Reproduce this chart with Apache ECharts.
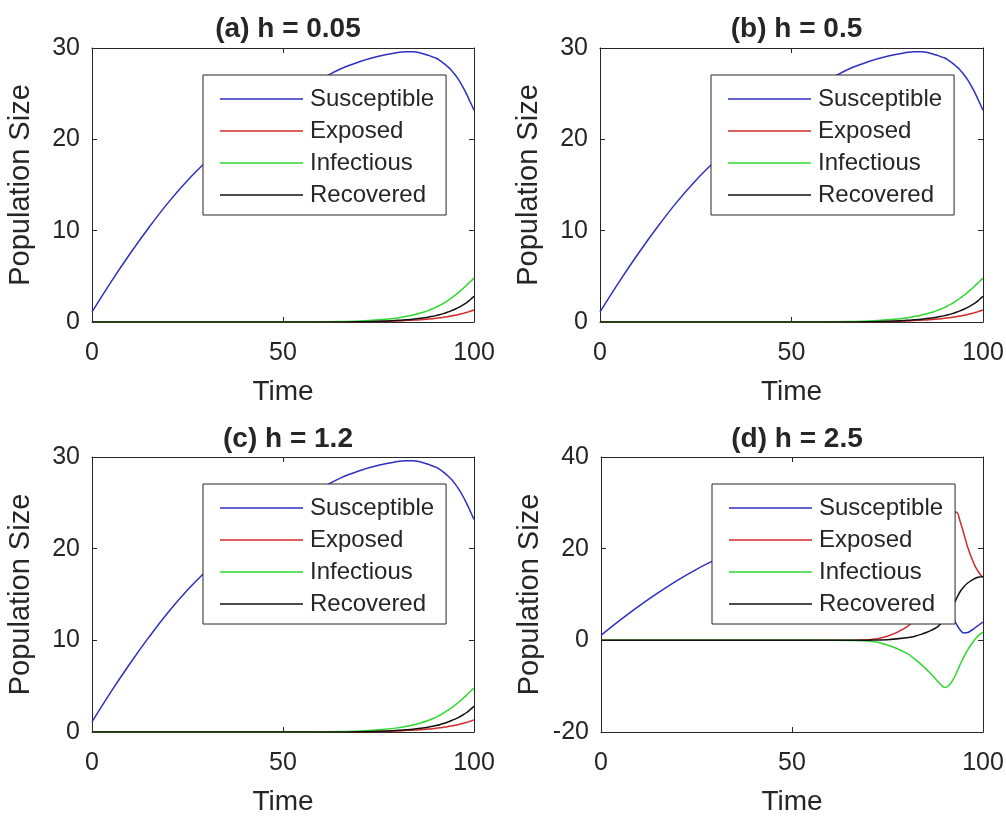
<!DOCTYPE html>
<html>
<head>
<meta charset="utf-8">
<title>SEIR population, four step sizes</title>
<script src="https://cdn.jsdelivr.net/npm/echarts@6/dist/echarts.min.js"></script>
<style>
  html, body { margin: 0; padding: 0; background: #fff; }
  #chart { width: 1006px; height: 818px; }
</style>
</head>
<body>
<div id="chart"></div>
<script>
// time points shared by every curve
const time = [0, 5, 10, 15, 20, 25, 30, 35, 40, 45, 50, 55, 60, 65, 70, 75, 80,
  82, 84, 86, 88, 89, 90, 91, 92, 93, 94, 95, 96, 97, 98, 99, 100];

// panels (a)-(c): h = 0.05, 0.5, 1.2 give the same picture
const susceptible = [1.1, 4.4, 7.5, 10.4, 13.1, 15.5, 17.6, 19.5, 21.2, 22.7, 24.1, 25.4, 26.6, 27.7, 28.5, 29.1, 29.5,
  29.6, 29.6, 29.45, 29.2, 29.05, 28.9, 28.65, 28.35, 28.0, 27.6, 27.1, 26.5, 25.8, 25.0, 24.1, 23.2];
const exposed = [0, 0, 0, 0, 0, 0, 0, 0, 0, 0, 0, 0, 0, 0.01, 0.03, 0.06, 0.12,
  0.16, 0.2, 0.25, 0.32, 0.36, 0.41, 0.46, 0.52, 0.58, 0.65, 0.73, 0.82, 0.92, 1.03, 1.17, 1.32];
const infectious = [0, 0, 0, 0, 0, 0, 0, 0, 0, 0, 0, 0, 0.02, 0.05, 0.12, 0.25, 0.45,
  0.6, 0.77, 0.98, 1.25, 1.42, 1.6, 1.82, 2.05, 2.32, 2.6, 2.92, 3.25, 3.62, 4.0, 4.4, 4.8];
const recovered = [0, 0, 0, 0, 0, 0, 0, 0, 0, 0, 0, 0, 0, 0, 0.03, 0.08, 0.18,
  0.24, 0.31, 0.41, 0.53, 0.61, 0.7, 0.8, 0.92, 1.06, 1.22, 1.4, 1.6, 1.84, 2.1, 2.44, 2.8];

// panel (d): h = 2.5, unstable
const susceptibleD = [1.1, 4.4, 7.5, 10.4, 13.1, 15.5, 17.6, 19.5, 21.2, 22.7, 24.1, 25.4, 26.6, 27.7, 28.5, 29.0, 28.6,
  27.5, 25.5, 22.0, 16.5, 13.0, 10.0, 7.3, 5.2, 3.6, 2.3, 1.6, 1.7, 2.2, 2.8, 3.4, 4.0];
const exposedD = [0, 0, 0, 0, 0, 0, 0, 0, 0, 0, 0, 0, 0, 0.03, 0.12, 0.9, 2.9,
  4.5, 6.8, 10.0, 14.5, 17.5, 21.0, 24.5, 27.3, 28.0, 26.0, 23.2, 20.3, 18.0, 16.1, 14.7, 13.7];
const infectiousD = [0, 0, 0, 0, 0, 0, 0, 0, 0, 0, 0, 0, 0, -0.03, -0.15, -1.0, -2.8,
  -4.0, -5.4, -7.0, -8.8, -9.7, -10.3, -9.9, -8.8, -7.2, -5.3, -3.6, -2.1, -0.8, 0.3, 1.2, 1.8];
const recoveredD = [0, 0, 0, 0, 0, 0, 0, 0, 0, 0, 0, 0, 0, 0, 0.03, 0.15, 0.55,
  0.85, 1.35, 2.0, 2.9, 3.7, 4.7, 5.9, 7.3, 9.0, 10.6, 11.7, 12.5, 13.1, 13.55, 13.8, 13.9];

const seriesNames = ['Susceptible', 'Exposed', 'Infectious', 'Recovered'];
const seriesColors = ['#2f2fc0', '#d42a2a', '#2ed82e', '#111111'];

const panels = [
  { title: '(a) h = 0.05', data: [susceptible, exposed, infectious, recovered], yMin: 0, yMax: 30, yStep: 10 },
  { title: '(b) h = 0.5', data: [susceptible, exposed, infectious, recovered], yMin: 0, yMax: 30, yStep: 10 },
  { title: '(c) h = 1.2', data: [susceptible, exposed, infectious, recovered], yMin: 0, yMax: 30, yStep: 10 },
  { title: '(d) h = 2.5', data: [susceptibleD, exposedD, infectiousD, recoveredD], yMin: -20, yMax: 40, yStep: 20 },
];

// plot boxes, pixels
const boxes = [
  { left: 92, top: 48, width: 382, height: 274 },
  { left: 600, top: 48, width: 383, height: 274 },
  { left: 92, top: 457, width: 382, height: 275 },
  { left: 601, top: 457, width: 382, height: 275 },
];

const ink = '#262626';
const font = 'Liberation Sans, Arial, Helvetica, sans-serif';

const pairs = (ys) => time.map((t, i) => [t, ys[i]]);

const grid = [], xAxis = [], yAxis = [], title = [], legend = [], series = [];

panels.forEach((p, i) => {
  const b = boxes[i];
  grid.push({ left: b.left, top: b.top, width: b.width, height: b.height, outerBoundsMode: 'none', show: false });

  const line = { show: true, onZero: false, lineStyle: { color: ink, width: 1 } };
  const tick = { show: true, inside: true, length: 5, lineStyle: { color: ink } };

  xAxis.push({
    type: 'value', gridIndex: i, position: 'bottom', min: 0, max: 100, interval: 50,
    axisLine: line, axisTick: tick, splitLine: { show: false },
    axisLabel: { color: ink, fontSize: 25, fontFamily: font, margin: 19 },
    name: 'Time', nameLocation: 'middle', nameGap: 56,
    nameTextStyle: { color: ink, fontSize: 28, fontFamily: font },
  });
  yAxis.push({
    type: 'value', gridIndex: i, position: 'left', min: p.yMin, max: p.yMax, interval: p.yStep,
    axisLine: line, axisTick: tick, splitLine: { show: false },
    axisLabel: { color: ink, fontSize: 25, fontFamily: font, margin: 12 },
    name: 'Population Size', nameLocation: 'middle', nameGap: 57,
    nameTextStyle: { color: ink, fontSize: 29, fontFamily: font },
  });

  title.push({
    text: p.title, left: b.left + b.width / 2, top: i < 2 ? 10 : 420, textAlign: 'center',
    textStyle: { color: ink, fontSize: 28, fontWeight: 'bold', fontFamily: font },
  });

  legend.push({
    orient: 'vertical', left: b.left + 111, top: b.top + 27,
    data: seriesNames, selectedMode: false, icon: 'rect',
    itemWidth: 83, itemHeight: 1.5, itemGap: 8,
    padding: [12, 12, 8, 17],
    backgroundColor: '#fff', borderColor: ink, borderWidth: 1, borderRadius: 0,
    textStyle: { color: ink, fontSize: 24, lineHeight: 24, fontFamily: font, padding: [0, 0, 0, 2] },
  });

  p.data.forEach((ys, k) => {
    series.push({
      type: 'line', name: seriesNames[k], xAxisIndex: i, yAxisIndex: i,
      data: pairs(ys), showSymbol: false, symbol: 'none', smooth: 0.4,
      lineStyle: { color: seriesColors[k], width: 1.5 },
      itemStyle: { color: seriesColors[k] },
      animation: false,
    });
  });
});

// box frame: top and right axes with inward ticks, no labels
panels.forEach((p, i) => {
  xAxis.push({
    type: 'value', gridIndex: i, position: 'top', min: 0, max: 100, interval: 50,
    axisLine: { show: true, onZero: false, lineStyle: { color: ink, width: 1 } },
    axisTick: { show: true, inside: true, length: 5, lineStyle: { color: ink } },
    axisLabel: { show: false }, splitLine: { show: false },
  });
  yAxis.push({
    type: 'value', gridIndex: i, position: 'right', min: p.yMin, max: p.yMax, interval: p.yStep,
    axisLine: { show: true, onZero: false, lineStyle: { color: ink, width: 1 } },
    axisTick: { show: true, inside: true, length: 5, lineStyle: { color: ink } },
    axisLabel: { show: false }, splitLine: { show: false },
  });
});

const chart = echarts.init(document.getElementById('chart'), null, { renderer: 'canvas' });
chart.setOption({
  backgroundColor: '#fff',
  animation: false,
  title, legend, grid, xAxis, yAxis, series,
});
</script>
</body>
</html>
